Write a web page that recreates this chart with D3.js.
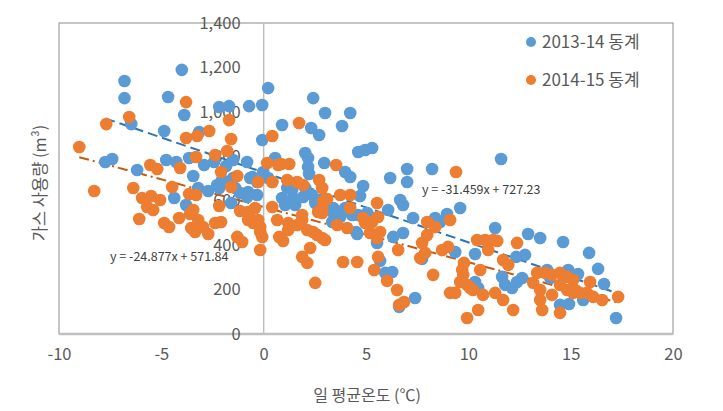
<!DOCTYPE html>
<html><head><meta charset="utf-8">
<script src="https://cdn.jsdelivr.net/npm/d3@7"></script>
<style>body{margin:0;background:#fff}svg{display:block}</style>
</head><body>
<svg id="c" width="723" height="411"></svg>
<script>
// ---- data ----
const seriesNames = ["2013-14 동계", "2014-15 동계"];
const xTicks = [-10, -5, 0, 5, 10, 15, 20];
const yTicks = [0, 200, 400, 600, 800, 1000, 1200, 1400];
const trendSlopes = [-31.459, -24.877];
const trendIntercepts = [727.23, 571.84];
const trendLabels = ["y = -31.459x + 727.23", "y = -24.877x + 571.84"];
const xTitle = "일 평균온도 (℃)";
const yTitle = "가스 사용량 (m³)";

const winter1314 = [
[-6.8,1139],[-6.8,1062],[-4.0,1189],[-4.67,1067],[-3.88,986],[-6.47,945],[-4.86,914],[-2.17,1022],[-1.69,1026],[-0.71,1026],
[-0.07,1031],[0.22,1107],[-0.07,873],[2.42,1062],[3.0,995],[4.23,995],[3.83,936],[2.32,927],[2.71,896],[0.9,941],
[-3.15,909],[-7.74,774],[-7.4,788],[-6.18,738],[-4.76,783],[-4.27,774],[-3.64,792],[-2.91,761],[-2.42,774],[-1.83,756],
[-1.49,783],[-3.44,711],[-2.27,671],[-1.78,684],[-1.49,702],[-3.2,657],[-2.71,644],[-2.17,657],[-1.15,635],[-0.76,639],
[-4.37,612],[-0.66,702],[-3.79,581],[-1.59,590],[-0.81,774],[-2.03,693],[-0.56,707],[-0.32,684],[-0.02,729],[0.22,702],
[0.42,684],[-0.32,626],[-0.81,617],[-1.39,657],[0.56,792],[1.15,657],[1.39,648],[1.44,612],[1.54,581],[1.05,581],
[0.9,612],[4.62,819],[4.96,828],[5.3,837],[2.03,815],[2.17,792],[2.17,752],[2.22,720],[2.96,770],[3.98,729],
[4.23,707],[4.86,666],[6.18,702],[7.01,743],[7.01,684],[8.23,743],[4.71,621],[6.67,603],[6.81,581],[7.3,522],
[8.38,522],[8.96,540],[2.03,657],[2.37,626],[2.52,590],[2.76,603],[3.1,567],[3.4,545],[3.74,549],[3.98,567],
[3.35,504],[4.32,536],[4.62,536],[5.06,545],[5.3,522],[6.08,558],[6.33,437],[6.81,455],[4.52,459],[5.54,410],
[1.93,617],[5.94,275],[6.28,279],[5.69,329],[6.62,122],[7.4,162],[7.74,338],[4.57,450],[9.6,567],[8.62,504],
[11.31,477],[12.92,450],[13.51,432],[14.63,414],[15.9,365],[16.34,293],[16.63,225],[17.22,72],[11.65,257],[10.33,360],
[12.77,356],[11.8,221],[14.48,131],[14.92,135],[14.88,288],[15.36,270],[15.61,153],[14.0,252],[12.14,207],[9.36,369],
[12.34,347],[13.85,288],[12.63,252],[12.38,234],[10.33,234],[10.48,207],[11.6,788],[3.4,567],[3.74,527]
];
const winter1415 = [
[-3.79,1044],[-6.57,977],[-7.69,945],[-9.01,842],[-3.79,882],[-3.25,891],[-2.66,914],[-1.59,878],[-1.69,963],[-1.78,824],
[-2.08,729],[-1.29,711],[-3.3,797],[0.17,770],[0.42,891],[1.73,950],[0.85,765],[1.25,765],[-0.27,684],[0.42,684],
[2.71,693],[3.54,761],[1.93,671],[2.86,657],[-5.54,761],[-5.2,743],[-4.08,747],[-4.47,662],[-6.37,657],[-8.28,644],
[-5.94,612],[-5.5,621],[-5.06,603],[-3.64,630],[-3.3,626],[-1.59,662],[-5.69,572],[-5.4,558],[-6.08,518],[-4.86,500],
[-4.62,482],[-4.13,522],[-3.44,558],[-3.2,513],[-2.96,482],[-3.54,477],[-3.35,459],[-2.71,450],[-2.37,500],[-2.08,504],
[-1.29,437],[-1.05,414],[-0.76,513],[-0.51,500],[-0.17,459],[-0.07,437],[-0.17,378],[0.76,437],[0.95,419],[1.88,347],
[2.13,320],[2.27,387],[2.52,230],[1.2,500],[2.13,468],[2.42,459],[2.86,432],[3.0,423],[3.88,324],[4.57,324],
[0.66,513],[-2.37,806],[0.71,761],[1.15,693],[1.64,684],[-2.17,576],[-1.15,554],[-0.76,549],[-0.66,522],[-0.27,513],
[0.42,572],[-0.17,482],[1.64,491],[1.2,468],[-3.59,540],[3.74,626],[4.23,626],[2.86,567],[2.86,545],[5.54,590],
[4.23,567],[4.96,500],[5.3,504],[5.59,527],[1.88,536],[2.61,446],[3.59,491],[4.08,477],[5.2,455],[5.54,432],
[5.69,459],[6.57,378],[7.74,410],[7.99,446],[7.65,342],[7.89,365],[8.72,378],[5.59,347],[-0.42,567],[1.88,513],
[2.66,549],[2.91,599],[3.1,608],[5.4,288],[6.03,239],[6.52,198],[6.86,144],[8.28,266],[4.86,522],[7.99,504],
[8.38,482],[9.11,513],[9.01,392],[6.62,131],[9.94,221],[9.6,234],[9.75,266],[9.7,288],[9.79,320],[9.11,185],
[9.36,185],[10.23,198],[10.72,176],[9.94,72],[10.48,108],[11.31,185],[11.7,153],[12.19,108],[10.43,423],[10.82,423],
[11.21,423],[11.41,419],[10.97,378],[12.38,410],[11.7,333],[11.95,311],[13.17,230],[13.51,198],[13.51,153],[13.61,108],
[13.36,275],[13.75,275],[14.09,266],[14.48,275],[14.83,257],[15.12,243],[14.48,95],[14.09,176],[14.48,221],[14.83,198],
[15.12,185],[15.46,185],[15.8,185],[16.1,167],[15.95,234],[16.54,153],[17.32,167],[9.4,729],[10.58,288],[10.09,207],
[15.22,198]
];
const seriesData = [winter1314, winter1415];

// ---- style ----
const colors = ["#5b9bd5", "#ed7d31"];
const trendColors = ["#2e75b6", "#c55a11"];
const font = "'Noto Sans CJK KR', 'Noto Sans', sans-serif";
const textColor = "#595959";

const svg = d3.select("#c");
const L = 59, R = 673, T = 23, B = 334;
const x = d3.scaleLinear().domain([-10, 20]).range([L, R]);
const y = d3.scaleLinear().domain([0, 1400]).range([B, T]);

// frame
svg.append("rect").attr("x", L).attr("y", T).attr("width", R - L).attr("height", B - T)
  .attr("fill", "none").attr("stroke", "#8c8c8c").attr("stroke-width", 1);
// vertical axis at x=0
svg.append("line").attr("x1", x(0)).attr("x2", x(0)).attr("y1", T).attr("y2", B)
  .attr("stroke", "#bfbfbf").attr("stroke-width", 1.5);
// horizontal axis
svg.append("line").attr("x1", L).attr("x2", R).attr("y1", B).attr("y2", B)
  .attr("stroke", "#bfbfbf").attr("stroke-width", 2.5);

// x tick labels via axis (hyphen minus as in reference)
const xAxis = d3.axisBottom(x).tickValues(xTicks).tickSize(0).tickPadding(0).tickFormat(d => String(d));
const gx = svg.append("g").attr("transform", `translate(0,${B + 21})`).call(xAxis);
gx.select(".domain").remove();
gx.selectAll("text").attr("font-family", font).attr("font-size", 16.5).attr("fill", textColor)
  .attr("dy", "0.32em").attr("y", 0);

// y tick labels at x=0
const yAxis = d3.axisLeft(y).tickValues(yTicks).tickSize(0).tickPadding(0).tickFormat(d3.format(","));
const gy = svg.append("g").attr("transform", `translate(${x(0) - 23},0)`).call(yAxis);
gy.select(".domain").remove();
gy.selectAll("text").attr("font-family", font).attr("font-size", 16.5).attr("fill", textColor);

// trendlines
seriesData.forEach((d, i) => {
  const ext = d3.extent(d, p => p[0]);
  const line = d3.line().x(p => x(p)).y(p => y(trendIntercepts[i] + trendSlopes[i] * p));
  svg.append("path").datum(ext).attr("d", line).attr("fill", "none")
    .attr("stroke", trendColors[i]).attr("stroke-width", 2)
    .attr("stroke-dasharray", i === 0 ? "10,5" : "10,4,2,4");
});

// points
seriesData.forEach((d, i) => {
  svg.append("g").selectAll("circle").data(d).join("circle")
    .attr("cx", p => x(p[0])).attr("cy", p => y(p[1])).attr("r", 6.3)
    .attr("fill", colors[i]);
});

// trend labels
svg.append("text").attr("x", 422).attr("y", 190).attr("dy", "0.35em")
  .attr("font-family", font).attr("font-size", 12.5).attr("fill", "#404040").text(trendLabels[0]);
svg.append("text").attr("x", 110).attr("y", 257).attr("dy", "0.35em")
  .attr("font-family", font).attr("font-size", 12.5).attr("fill", "#404040").text(trendLabels[1]);

// legend
seriesNames.forEach((n, i) => {
  const cy = 42 + i * 38;
  svg.append("circle").attr("cx", 531).attr("cy", cy).attr("r", 5).attr("fill", colors[i]);
  svg.append("text").attr("x", 542).attr("y", cy).attr("dy", "0.35em")
    .attr("font-family", font).attr("font-size", 17).attr("fill", textColor).text(n);
});

// axis titles
svg.append("text").attr("x", 367).attr("y", 395).attr("dy", "0.35em").attr("text-anchor", "middle")
  .attr("font-family", font).attr("font-size", 16).attr("fill", textColor).text(xTitle);
svg.append("text").attr("transform", "translate(40,183) rotate(-90)").attr("dy", "0.35em")
  .attr("text-anchor", "middle").attr("font-family", font).attr("font-size", 16.5).attr("fill", textColor).text(yTitle);
</script>
</body></html>
